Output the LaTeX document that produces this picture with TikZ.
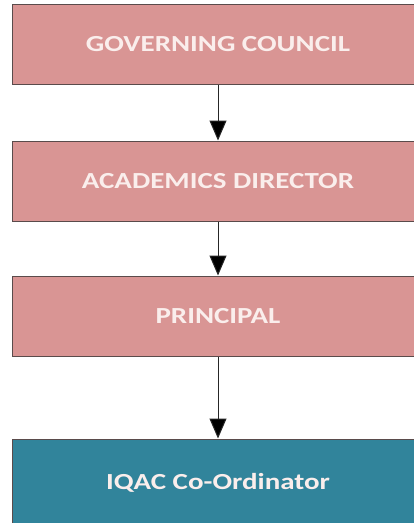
\documentclass[tikz,border=0pt]{standalone}
\usepackage{fontspec}
\setmainfont{Carlito}
\usepackage{tikz}
\usetikzlibrary{arrows.meta}

\definecolor{boxpink}{RGB}{217,149,148}
\definecolor{boxteal}{RGB}{49,132,155}
\definecolor{boxedge}{RGB}{90,75,75}
\definecolor{labelwhite}{RGB}{250,238,236}

\newcommand{\boxlabel}[1]{\scalebox{1.26}[1]{#1}}

\tikzset{
    levelbox/.style={draw=boxedge, line width=1pt, fill=boxpink,
        minimum width=412pt, minimum height=80pt, inner sep=0pt,
        text=labelwhite, font=\fontsize{23}{26}\selectfont\bfseries},
    iqacbox/.style={levelbox, fill=boxteal, minimum height=88pt},
    flow/.style={draw=black!85, line width=1pt, -{Triangle[length=20pt,width=17pt,fill=black]}}
}

\begin{document}
\begin{tikzpicture}[x=1pt, y=1pt]

    %Page frame
    \useasboundingbox (0,0) rectangle (414,-523);

    %Levels
    \node[levelbox] (council)  at (218,-44)  {\boxlabel{GOVERNING COUNCIL}};
    \node[levelbox] (director) at (218,-181) {\boxlabel{ACADEMICS DIRECTOR}};
    \node[levelbox] (principal) at (218,-316) {\boxlabel{PRINCIPAL}};
    \node[iqacbox]  (iqac)     at (218,-483) {\boxlabel{IQAC Co-Ordinator}};

    %Arrows between levels
    \draw[flow] (council)  -- (director);
    \draw[flow] (director) -- (principal);
    \draw[flow] (principal) -- (iqac);

\end{tikzpicture}
\end{document}
